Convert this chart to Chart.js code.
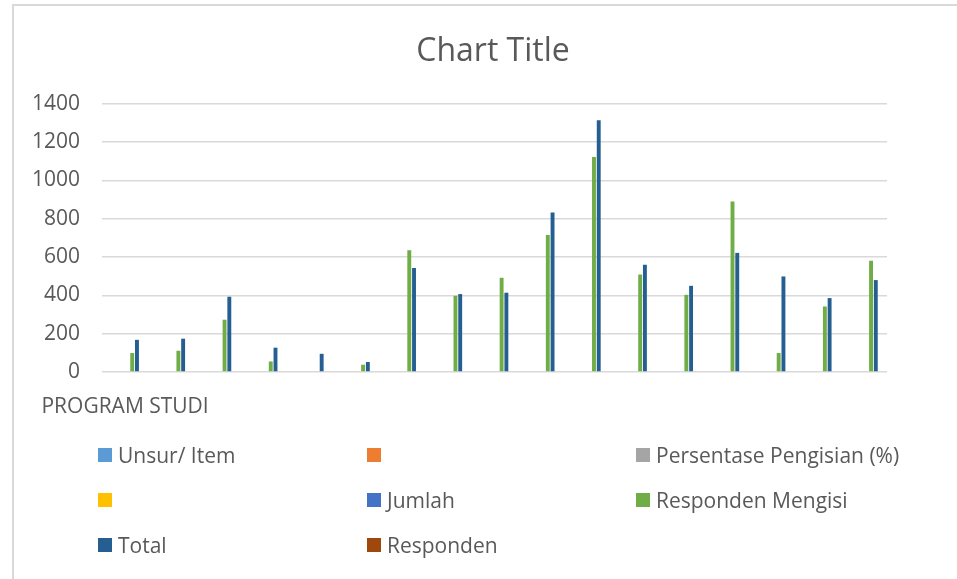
<!DOCTYPE html>
<html>
<head>
<meta charset="utf-8">
<script src="https://cdn.jsdelivr.net/npm/chart.js@4.4.1/dist/chart.umd.min.js"></script>
<style>
  html, body { margin: 0; padding: 0; background: #fff; width: 957px; height: 579px; overflow: hidden; position: relative; }
  #frame { position: absolute; left: 12px; top: 4px; width: 1000px; height: 1000px; border-left: 2px solid #d9d9d9; border-top: 2px solid #d9d9d9; }
  #wrap { position: absolute; left: 13px; top: 0; width: 960px; height: 430px; }
  #legend { position: absolute; left: 0; top: 0; width: 957px; height: 579px; pointer-events: none; }
  .item { position: absolute; display: flex; align-items: center; height: 28px; font-family: "Open Sans", sans-serif; font-size: 21px; color: #595959; white-space: nowrap; }
  .box { width: 14px; height: 14px; margin-right: 6px; flex: none; }
  .lbl { line-height: 28px; }
</style>
</head>
<body>
<div id="frame"></div>
<div id="wrap"><canvas id="c" width="960" height="430"></canvas></div>
<div id="legend"></div>
<script>
// ---- data ----
const categories = ["PROGRAM STUDI", "", "", "", "", "", "", "", "", "", "", "", "", "", "", "", ""];
const yTicks = [0, 200, 400, 600, 800, 1000, 1200, 1400];
const seriesNames = ["Unsur/ Item", "", "Persentase Pengisian (%)", "", "Jumlah", "Responden Mengisi", "Total", "Responden"];
const seriesColors = ["#5B9BD5", "#ED7D31", "#A5A5A5", "#FFC000", "#4472C4", "#70AD47", "#255E91", "#9E480E"];
const unsurItem = [null, null, null, null, null, null, null, null, null, null, null, null, null, null, null, null, null];
const blankOrange = [null, null, null, null, null, null, null, null, null, null, null, null, null, null, null, null, null];
const persentasePengisian = [null, null, null, null, null, null, null, null, null, null, null, null, null, null, null, null, null];
const blankYellow = [null, null, null, null, null, null, null, null, null, null, null, null, null, null, null, null, null];
const jumlah = [null, null, null, null, null, null, null, null, null, null, null, null, null, null, null, null, null];
const respondenMengisi = [99, 111, 273, 55, 0, 38, 636, 398, 492, 716, 1123, 509, 403, 890, 99, 342, 581];
const total = [168, 174, 393, 127, 95, 52, 543, 407, 414, 833, 1315, 560, 450, 622, 499, 386, 480];
const responden = [null, null, null, null, null, null, null, null, null, null, null, null, null, null, null, null, null];
const seriesValues = [unsurItem, blankOrange, persentasePengisian, blankYellow, jumlah, respondenMengisi, total, responden];

const FONT = "'Open Sans', sans-serif";
const TXT = "#595959";

const datasets = seriesNames.map((name, i) => ({
  label: name,
  data: seriesValues[i],
  backgroundColor: seriesColors[i],
  borderWidth: 0,
  categoryPercentage: 0.823,
  barPercentage: 0.82
}));

const chart = new Chart(document.getElementById('c'), {
  type: 'bar',
  data: { labels: categories, datasets },
  options: {
    responsive: false,
    animation: false,
    devicePixelRatio: 1,
    layout: { padding: { left: 0, right: 0, top: 0, bottom: 14 } },
    plugins: {
      legend: { display: false },
      tooltip: { enabled: false },
      title: {
        display: true,
        text: 'Chart Title',
        color: TXT,
        font: { family: FONT, size: 32, weight: 'normal' },
        padding: { top: 32.5, bottom: 33 }
      }
    },
    scales: {
      x: {
        grid: { display: false, drawTicks: false },
        border: { display: false },
        ticks: {
          color: TXT, font: { family: FONT, size: 21 },
          autoSkip: false, maxRotation: 0, minRotation: 0, padding: 22
        },
        afterFit: s => { s.height = 44; }
      },
      y: {
        min: 0, max: 1400,
        grid: { color: '#d9d9d9', lineWidth: 1.5, drawTicks: false },
        border: { display: false },
        afterBuildTicks: s => { s.ticks = yTicks.map(v => ({ value: v })); },
        ticks: { color: TXT, font: { family: FONT, size: 21 }, padding: 22, callback: v => String(v) },
        afterFit: s => { s.width = 89; }
      },
      yRight: {
        position: 'right',
        display: true,
        grid: { display: false, drawTicks: false },
        border: { display: false },
        ticks: { display: false },
        afterFit: s => { s.width = 86; }
      }
    }
  }
});

// HTML legend built from the chart datasets (3 columns)
const legendEl = document.getElementById('legend');
const colX = [98, 367, 636];
const rowTop = [441, 486, 531];
chart.data.datasets.forEach((ds, i) => {
  const it = document.createElement('div');
  it.className = 'item';
  it.style.left = colX[i % 3] + 'px';
  it.style.top = rowTop[Math.floor(i / 3)] + 'px';
  const b = document.createElement('span');
  b.className = 'box';
  b.style.background = ds.backgroundColor;
  const t = document.createElement('span');
  t.className = 'lbl';
  t.textContent = ds.label;
  it.appendChild(b); it.appendChild(t);
  legendEl.appendChild(it);
});
</script>
</body>
</html>
